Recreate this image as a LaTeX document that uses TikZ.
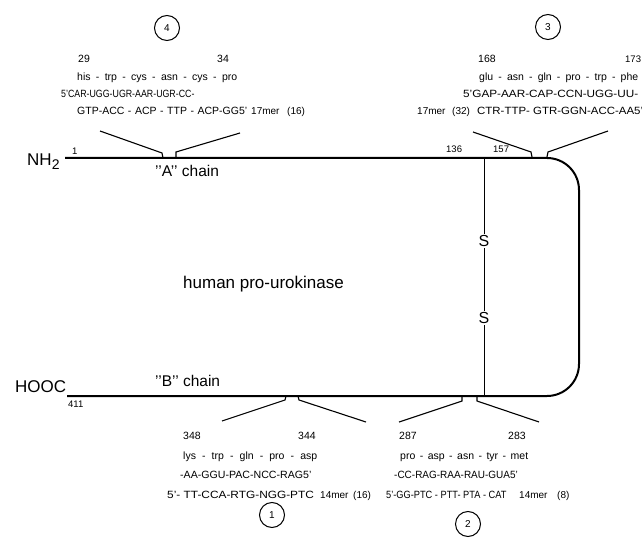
\documentclass[tikz,border=0pt]{standalone}
\usepackage{fontspec}
\setmainfont{Liberation Sans}
\newcommand{\myfitS}[2]{\makebox[#1][s]{#2}}
\newcommand{\myfitX}[2]{\scalebox{#1}[1]{#2}}
\begin{document}
\begin{tikzpicture}[x=1pt,y=-1pt,
  chainline/.style={line width=2pt, rounded corners=32pt},
  brk/.style={line width=1.1pt},
  ssline/.style={line width=0.9pt},
  sml/.style={font=\fontsize{10.5}{12}\selectfont, anchor=base west, inner sep=0pt},
  merl/.style={font=\fontsize{10}{12}\selectfont, anchor=base west, inner sep=0pt},
  numl/.style={font=\fontsize{9.5}{11}\selectfont, anchor=base west, inner sep=0pt},
  resl/.style={font=\fontsize{10.5}{12}\selectfont, anchor=base west, inner sep=0pt},
  big/.style={font=\fontsize{17}{20}\selectfont, anchor=base west, inner sep=0pt},
  lab/.style={font=\fontsize{15.5}{18}\selectfont, anchor=base west, inner sep=0pt},
  numc/.style={circle, draw, line width=1pt, minimum size=25pt, inner sep=0pt, font=\fontsize{10}{12}\selectfont}]
\useasboundingbox (0,0) rectangle (642,545);

% termini
\node[big] (nh2) at (27,166) {NH\raisebox{-4pt}{\fontsize{14}{14}\selectfont 2}};
\node[big] (hooc) at (15,392) {HOOC};
\node[numl] (one) at (72,155) {1};
\node[numl] (r411) at (68,407) {411};
\node[numl] (r136) at (446,153) {136};
\node[numl] (r157) at (493,153) {157};

% main chain
\coordinate (ctop) at (65,158);
\coordinate (cbot) at (67,396);
\draw[chainline] (ctop) -- (579,158) -- (579,396) -- (cbot);

\node[lab] (achain) at (155,177) {’’A’’ chain};
\node[lab] (bchain) at (155,386) {’’B’’ chain};
\node[big] (title) at (183,288) {human pro-urokinase};

% disulfide
\coordinate (sstop) at (484,158);
\coordinate (ssbot) at (484,396);
\node[font=\fontsize{16}{18}\selectfont, inner sep=1pt] (s1) at (484,241) {S};
\node[font=\fontsize{16}{18}\selectfont, inner sep=1pt] (s2) at (484,318) {S};
\draw[ssline] (sstop) -- (s1) -- (s2) -- (ssbot);

% bracket 4
\coordinate (b4a) at (100,131);
\coordinate (b4b) at (162,153);
\coordinate (b4c) at (163,158);
\coordinate (b4d) at (176,158);
\coordinate (b4e) at (176,152);
\coordinate (b4f) at (240,133);
\draw[brk] (b4a) -- (b4b) -- (b4c);
\draw[brk] (b4d) -- (b4e) -- (b4f);

% bracket 3
\coordinate (b3a) at (473,132);
\coordinate (b3b) at (531,152);
\coordinate (b3c) at (532,157);
\coordinate (b3d) at (547,157);
\coordinate (b3e) at (548,152);
\coordinate (b3f) at (608,131);
\draw[brk] (b3a) -- (b3b) -- (b3c);
\draw[brk] (b3d) -- (b3e) -- (b3f);

% bracket 1
\coordinate (b1a) at (222,421);
\coordinate (b1b) at (285,400);
\coordinate (b1c) at (286,396);
\coordinate (b1d) at (298,396);
\coordinate (b1e) at (299,400);
\coordinate (b1f) at (366,422);
\draw[brk] (b1a) -- (b1b) -- (b1c);
\draw[brk] (b1d) -- (b1e) -- (b1f);

% bracket 2
\coordinate (b2a) at (399,422);
\coordinate (b2b) at (462,401);
\coordinate (b2c) at (462,396);
\coordinate (b2d) at (477,396);
\coordinate (b2e) at (477,401);
\coordinate (b2f) at (539,422);
\draw[brk] (b2a) -- (b2b) -- (b2c);
\draw[brk] (b2d) -- (b2e) -- (b2f);

% block 4
\node[numc] (c4) at (167,28) {4};
\node[resl] (n29) at (78,63) {29};
\node[resl] (n34) at (217,63) {34};
\node[sml] (aa4) at (77,81) {\myfitS{160pt}{his - trp - cys - asn - cys - pro}};
\node[sml] (s4a) at (61,98) {\myfitX{0.84}{5’CAR-UGG-UGR-AAR-UGR-CC-}};
\node[sml] (s4b) at (77,115) {\myfitS{170pt}{GTP-ACC - ACP - TTP - ACP-GG5’}};
\node[merl] (m4) at (251,115) {17mer};
\node[merl] (p4) at (287,115) {(16)};

% block 3
\node[numc] (c3) at (548,27) {3};
\node[resl] (n168) at (478,63) {168};
\node[numl] (n173) at (625,63) {173};
\node[sml] (aa3) at (479,81) {\myfitS{159pt}{glu - asn - gln - pro - trp - phe}};
\node[sml] (s3a) at (463,98) {\myfitX{1.12}{5’GAP-AAR-CAP-CCN-UGG-UU-}};
\node[merl] (m3) at (417,115) {17mer};
\node[merl] (p3) at (452,115) {(32)};
\node[sml] (s3b) at (477,115) {\myfitX{1.09}{CTR-TTP- GTR-GGN-ACC-AA5’}};

% block 1
\node[numc] (c1) at (272,515) {1};
\node[resl] (n348) at (183,439) {348};
\node[resl] (n344) at (298,439) {344};
\node[sml] (aa1) at (183,459) {\myfitS{134pt}{lys - trp - gln - pro - asp}};
\node[sml] (s1a) at (180,478) {\myfitX{1.01}{-AA-GGU-PAC-NCC-RAG5’}};
\node[sml] (s1b) at (167,498) {\myfitX{1.13}{5’- TT-CCA-RTG-NGG-PTC}};
\node[merl] (m1) at (320,498) {14mer};
\node[merl] (p1) at (353,498) {(16)};

% block 2
\node[numc] (c2) at (468,524) {2};
\node[resl] (n287) at (399,439) {287};
\node[resl] (n283) at (508,439) {283};
\node[sml] (aa2) at (400,459) {\myfitS{128pt}{pro - asp - asn - tyr - met}};
\node[sml] (s2a) at (394,478) {\myfitX{0.95}{-CC-RAG-RAA-RAU-GUA5’}};
\node[sml] (s2b) at (386,498) {\myfitX{0.88}{5’-GG-PTC - PTT- PTA - CAT}};
\node[merl] (m2) at (519,498) {14mer};
\node[merl] (p2) at (557,498) {(8)};
\end{tikzpicture}
\end{document}
